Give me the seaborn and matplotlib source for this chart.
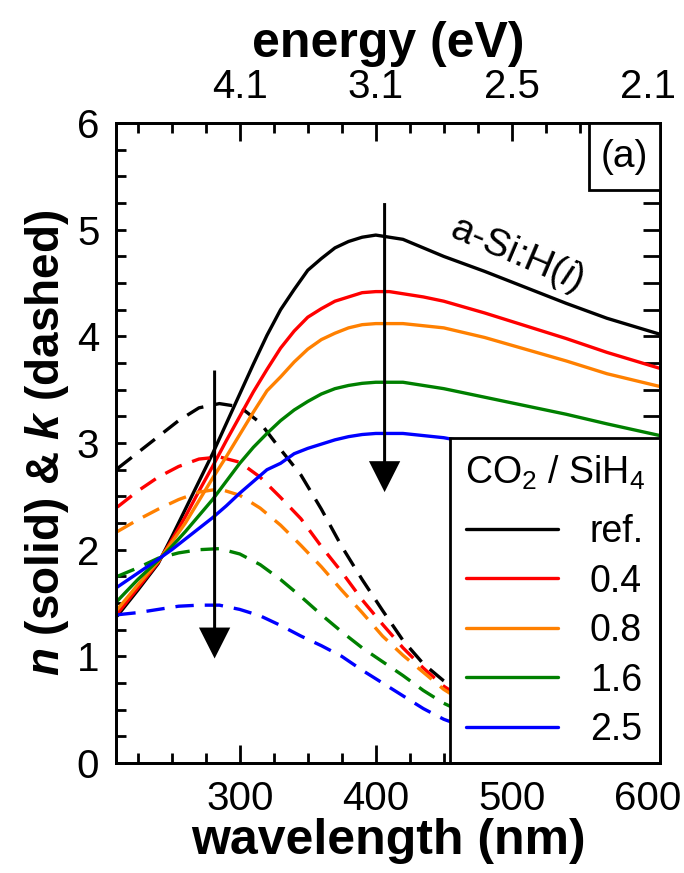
import matplotlib
matplotlib.use("Agg")
import numpy as np
import pandas as pd
import seaborn as sns
import matplotlib.pyplot as plt
from matplotlib.lines import Line2D
from matplotlib.patches import Rectangle
from matplotlib.ticker import MultipleLocator, NullFormatter

sns.set_style("ticks")
plt.rcParams["font.family"] = ["Liberation Sans", "DejaVu Sans"]
plt.rcParams["mathtext.fontset"] = "custom"
plt.rcParams["mathtext.rm"] = "Liberation Sans"
plt.rcParams["mathtext.it"] = "Liberation Sans:italic"
plt.rcParams["mathtext.bf"] = "Liberation Sans:bold"
plt.rcParams["mathtext.bfit"] = "Liberation Sans:bold:italic"
for key in ["text.color", "axes.labelcolor", "xtick.color", "ytick.color", "axes.edgecolor"]:
    plt.rcParams[key] = "black"

# samples (CO2/SiH4 ratio) and their colours
samples = ["ref.", "0.4", "0.8", "1.6", "2.5"]
colors = ["#000000", "#ff0000", "#ff8000", "#008000", "#0000ff"]

# refractive index n (solid)
wl_n = [210, 225, 240, 250, 260, 270, 280, 290, 300, 310, 320, 330, 340, 350, 360, 370,
        380, 390, 400, 410, 420, 435, 450, 480, 510, 540, 570, 609]
n_ref = [1.38, 1.62, 1.87, 2.12, 2.38, 2.64, 2.90, 3.18, 3.46, 3.74, 4.01, 4.25, 4.44, 4.62,
         4.73, 4.83, 4.89, 4.93, 4.95, 4.93, 4.91, 4.83, 4.75, 4.61, 4.46, 4.31, 4.17, 4.02]
n_04 = [1.40, 1.64, 1.88, 2.09, 2.31, 2.55, 2.78, 3.02, 3.25, 3.48, 3.69, 3.89, 4.05, 4.18,
        4.26, 4.33, 4.37, 4.41, 4.42, 4.42, 4.40, 4.37, 4.33, 4.22, 4.10, 3.98, 3.85, 3.70]
n_08 = [1.44, 1.67, 1.89, 2.07, 2.25, 2.46, 2.67, 2.87, 3.08, 3.29, 3.49, 3.62, 3.76, 3.88,
        3.97, 4.03, 4.08, 4.11, 4.12, 4.12, 4.12, 4.10, 4.08, 3.99, 3.88, 3.77, 3.65, 3.53]
n_16 = [1.52, 1.72, 1.90, 2.03, 2.17, 2.32, 2.47, 2.64, 2.81, 2.96, 3.09, 3.21, 3.31, 3.39,
        3.46, 3.51, 3.54, 3.56, 3.57, 3.57, 3.57, 3.54, 3.51, 3.43, 3.35, 3.27, 3.18, 3.07]
n_25 = [1.65, 1.78, 1.91, 2.00, 2.10, 2.20, 2.30, 2.41, 2.53, 2.64, 2.75, 2.81, 2.90, 2.95,
        2.99, 3.03, 3.06, 3.08, 3.09, 3.09, 3.09, 3.07, 3.05, 2.98, 2.90, 2.82, 2.74, 2.64]

# extinction coefficient k (dashed)
wl_k = [210, 225, 240, 255, 270, 285, 300, 315, 330, 345, 360, 375, 390, 405, 420, 435, 450, 480, 520, 560, 609]
k_ref = [2.76, 2.91, 3.06, 3.21, 3.33, 3.37, 3.34, 3.19, 2.94, 2.70, 2.38, 2.03, 1.72, 1.43, 1.15, 0.93, 0.77, 0.50, 0.26, 0.12, 0.05]
k_04 = [2.40, 2.55, 2.68, 2.78, 2.85, 2.87, 2.82, 2.68, 2.49, 2.29, 2.03, 1.79, 1.53, 1.30, 1.08, 0.89, 0.72, 0.47, 0.24, 0.11, 0.04]
k_08 = [2.17, 2.28, 2.38, 2.47, 2.54, 2.57, 2.51, 2.39, 2.23, 2.04, 1.84, 1.62, 1.41, 1.19, 1.01, 0.85, 0.69, 0.45, 0.23, 0.11, 0.04]
k_16 = [1.75, 1.83, 1.92, 1.97, 2.00, 2.01, 1.96, 1.86, 1.72, 1.56, 1.39, 1.23, 1.08, 0.95, 0.82, 0.68, 0.56, 0.38, 0.20, 0.09, 0.03]
k_25 = [1.39, 1.41, 1.44, 1.47, 1.48, 1.48, 1.44, 1.38, 1.29, 1.19, 1.10, 1.00, 0.87, 0.75, 0.63, 0.51, 0.41, 0.27, 0.14, 0.07, 0.02]

xticks = [300, 400, 500, 600]

frames = []
for s, nv, kv in zip(samples, [n_ref, n_04, n_08, n_16, n_25], [k_ref, k_04, k_08, k_16, k_25]):
    frames.append(pd.DataFrame({"wavelength": wl_n, "value": nv, "sample": s, "quantity": "n"}))
    frames.append(pd.DataFrame({"wavelength": wl_k, "value": kv, "sample": s, "quantity": "k"}))
df = pd.concat(frames, ignore_index=True)

fig = plt.figure(figsize=(6.84, 8.73), dpi=100)
ax = fig.add_axes([0.1696, 0.126, 0.7953, 0.733])

sns.lineplot(data=df, x="wavelength", y="value", hue="sample", style="quantity",
             hue_order=samples, palette=dict(zip(samples, colors)),
             style_order=["n", "k"], dashes={"n": "", "k": (5.5, 3.3)},
             linewidth=2.4, estimator=None, sort=False, legend=False, ax=ax)

ax.set_xlim(209, 609)
ax.set_ylim(0, 6)
ax.set_xticks(xticks)
ax.xaxis.set_minor_locator(MultipleLocator(25))
ax.yaxis.set_major_locator(MultipleLocator(1))
ax.yaxis.set_minor_locator(MultipleLocator(0.25))
ax.tick_params(axis="both", which="both", direction="in", labelsize=29, width=2,
               top=False, right=False)
ax.tick_params(axis="x", which="major", length=13, pad=12)
ax.tick_params(axis="x", which="minor", length=7)
ax.tick_params(axis="y", which="both", length=7, pad=12)
for sp in ax.spines.values():
    sp.set_linewidth(2)

# right axis: unlabelled, longer ticks
axr = ax.secondary_yaxis("right")
axr.yaxis.set_major_locator(MultipleLocator(0.25))
axr.yaxis.set_major_formatter(NullFormatter())
axr.tick_params(axis="y", direction="in", length=12, width=2)
axr.spines["right"].set_linewidth(2)

ax.set_xlabel("wavelength (nm)", fontsize=36, fontweight="bold", labelpad=0)
ax.set_ylabel(r"$\mathbfit{n}$ (solid) & $\mathbfit{k}$ (dashed)", fontsize=33,
              fontweight="bold", labelpad=4)

# top axis: photon energy at the same positions
ax2 = ax.twiny()
ax2.set_xlim(ax.get_xlim())
ax2.set_xticks(xticks)
ax2.set_xticklabels([f"{1240 / w:.1f}" for w in xticks])
ax2.xaxis.set_minor_locator(MultipleLocator(25))
ax2.tick_params(axis="x", which="both", direction="in", labelsize=29, width=2, pad=12)
ax2.tick_params(axis="x", which="major", length=13)
ax2.tick_params(axis="x", which="minor", length=7)
ax2.set_xlabel("energy (eV)", fontsize=36, fontweight="bold", labelpad=8)
for sp in ax2.spines.values():
    sp.set_linewidth(2)

# arrows showing the trend with CO2 dilution
ax.arrow(281.5, 3.68, 0, 0.98 - 3.68, width=2.2, head_width=23, head_length=0.29,
         length_includes_head=True, fc="k", ec="none", zorder=5)
ax.arrow(406.5, 5.25, 0, 2.54 - 5.25, width=2.2, head_width=23, head_length=0.29,
         length_includes_head=True, fc="k", ec="none", zorder=5)

ax.text(504, 4.77, r"a-Si:H$\mathit{(i)}$", fontsize=28, rotation=-23,
        ha="center", va="center", rotation_mode="anchor")

handles = [Line2D([], [], color=c, lw=2.4) for c in colors]
leg = ax.legend(handles, samples, title=r"CO$_2$ / SiH$_4$", loc="lower right",
                borderaxespad=0, fancybox=False, framealpha=1, edgecolor="k",
                fontsize=27, title_fontsize=27, handlelength=2.45, handletextpad=0.85,
                labelspacing=0.36, borderpad=0.4)
leg._legend_box.sep = 16
leg.get_frame().set_linewidth(2)
leg.set_zorder(10)

# panel label box
ax2.add_patch(Rectangle((0.8695, 0.895), 0.1305, 0.105, transform=ax2.transAxes,
                        fc="white", ec="k", lw=2, zorder=6, clip_on=False))
ax2.text(0.935, 0.947, "(a)", transform=ax2.transAxes, fontsize=28,
         ha="center", va="center", zorder=7)

fig.savefig("out.png", dpi=100)
